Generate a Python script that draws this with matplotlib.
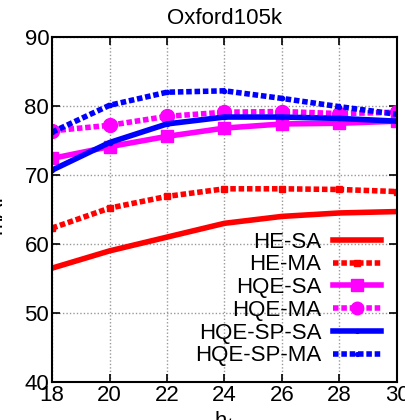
import numpy as np
import matplotlib
matplotlib.use('Agg')
import matplotlib.pyplot as plt

plt.rcParams['font.family'] = ['Liberation Sans', 'DejaVu Sans']

ht = [18, 20, 22, 24, 26, 28, 30]
he_sa = [56.5, 59.0, 61.0, 63.0, 64.0, 64.5, 64.7]
he_ma = [62.3, 65.2, 66.9, 68.0, 68.0, 67.9, 67.6]
hqe_sa = [72.4, 74.1, 75.6, 76.8, 77.4, 77.5, 77.8]
hqe_ma = [76.4, 77.2, 78.5, 79.1, 79.2, 78.9, 79.1]
hqe_sp_sa = [70.7, 74.7, 77.4, 78.4, 78.4, 78.2, 77.8]
hqe_sp_ma = [76.2, 80.1, 82.0, 82.2, 81.1, 79.9, 78.8]

fig = plt.figure(figsize=(4.06, 4.20), dpi=100)
ax = fig.add_axes([52/406, 38/420, 345/406, 345/420])

dot = (0, (1.0, 0.5))
ax.plot(ht, he_sa, color='#ff0000', lw=4, ls='-', label='HE-SA')
ax.plot(ht, he_ma, color='#ff0000', lw=4, ls=dot, marker='s', ms=5,
        label='HE-MA')
ax.plot(ht, hqe_sa, color='#ff00ff', lw=4, ls='-', marker='s', ms=9,
        label='HQE-SA')
ax.plot(ht, hqe_ma, color='#ff00ff', lw=4, ls=dot, marker='o', ms=10,
        label='HQE-MA')
ax.plot(ht, hqe_sp_sa, color='#0000ff', lw=4, ls='-', marker='o', ms=3,
        label='HQE-SP-SA')
ax.plot(ht, hqe_sp_ma, color='#0000ff', lw=4, ls=dot, marker='o', ms=3,
        label='HQE-SP-MA')

ax.set_xlim(18, 30)
ax.set_ylim(40, 90)
ax.set_xticks(ht)
ax.set_yticks([40, 50, 60, 70, 80, 90])
ax.grid(True, color='#999999', ls=(0, (1, 1.5)), lw=1)
ax.tick_params(direction='in', top=True, right=True, labelsize=16,
               length=6, width=1.2, pad=2)
for s in ax.spines.values():
    s.set_linewidth(1.5)

ax.set_title('Oxford105k', fontsize=16, pad=9)
ax.set_xlabel('h$_t$', fontsize=16, labelpad=2.5)
ax.set_ylabel('mAP', fontsize=16, labelpad=13)

ax.legend(loc='lower right', frameon=False, markerfirst=False, fontsize=16,
          handlelength=2.2, labelspacing=0.08, handletextpad=0.5,
          borderaxespad=0.3, markerscale=0.9)

fig.savefig('out.png', dpi=100)
